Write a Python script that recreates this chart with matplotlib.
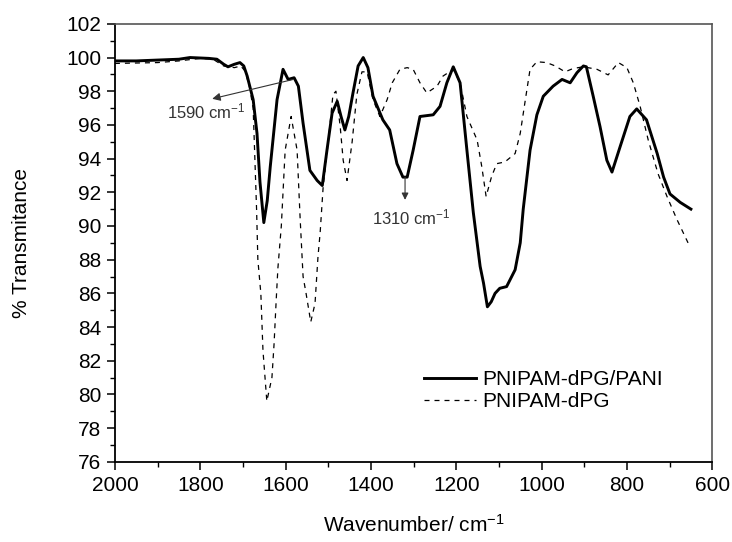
import matplotlib
matplotlib.use("Agg")
import matplotlib.pyplot as plt
from matplotlib.ticker import MultipleLocator

plt.rcParams['font.family'] = ['Liberation Sans', 'DejaVu Sans']
plt.rcParams['mathtext.default'] = 'regular'

# PNIPAM-dPG/PANI (solid)
wn_pani = [2000, 1950, 1900, 1850, 1824, 1780, 1761, 1745, 1735, 1720, 1707, 1698,
           1690, 1676, 1667, 1660, 1651, 1643, 1636, 1620, 1606, 1594, 1580, 1570,
           1559, 1543, 1526, 1514, 1503, 1491, 1479, 1470, 1461, 1452, 1442, 1430,
           1418, 1407, 1395, 1372, 1356, 1339, 1325, 1315, 1301, 1285, 1254, 1238,
           1222, 1207, 1191, 1175, 1160, 1144, 1136, 1127, 1118, 1109, 1098, 1082,
           1062, 1050, 1043, 1027, 1011, 996, 973, 952, 933, 917, 902, 895, 879,
           863, 847, 835, 816, 793, 777, 754, 729, 714, 699, 675, 650]
tr_pani = [99.8, 99.8, 99.85, 99.9, 100.0, 99.95, 99.9, 99.6, 99.45, 99.6, 99.7, 99.5,
           98.9, 97.5, 95.5, 92.6, 90.2, 91.5, 93.5, 97.5, 99.3, 98.7, 98.8, 98.3,
           96.1, 93.3, 92.7, 92.4, 94.5, 96.7, 97.4, 96.5, 95.7, 96.5, 97.9, 99.5,
           100.0, 99.4, 97.7, 96.3, 95.7, 93.7, 92.9, 92.9, 94.5, 96.5, 96.6, 97.1,
           98.5, 99.45, 98.5, 94.5, 90.8, 87.6, 86.6, 85.2, 85.5, 86.0, 86.3, 86.4,
           87.4, 89.0, 91.0, 94.5, 96.6, 97.7, 98.3, 98.7, 98.5, 99.1, 99.5, 99.45, 97.7,
           95.9, 93.9, 93.2, 94.7, 96.5, 96.95, 96.3, 94.3, 92.9, 91.9, 91.4, 91.0]

# PNIPAM-dPG (dashed)
wn_dpg = [2000, 1900, 1850, 1800, 1770, 1745, 1720, 1705, 1695, 1685, 1676, 1668,
          1665, 1658, 1653, 1644, 1632, 1627, 1622, 1618, 1610, 1601, 1587, 1573,
          1566, 1559, 1552, 1541, 1531, 1524, 1519, 1512, 1500, 1489, 1482, 1472,
          1465, 1456, 1444, 1433, 1421, 1409, 1395, 1379, 1362, 1350, 1332, 1315,
          1301, 1285, 1269, 1245, 1231, 1207, 1191, 1175, 1151, 1140, 1130, 1117,
          1105, 1086, 1062, 1050, 1038, 1027, 1011, 988, 968, 945, 926, 902, 870,
          844, 820, 800, 785, 769, 750, 727, 706, 683, 653]
tr_dpg = [99.65, 99.7, 99.8, 99.95, 99.9, 99.5, 99.4, 99.5, 99.2, 98.3, 97.0, 91.0,
          88.0, 86.0, 82.6, 79.6, 81.0, 83.0, 85.6, 87.5, 90.0, 94.5, 96.5, 94.5,
          90.5, 87.0, 86.0, 84.3, 85.4, 88.2, 89.6, 92.3, 95.0, 97.8, 98.0, 95.9,
          93.9, 92.7, 95.0, 97.8, 99.15, 99.15, 97.5, 96.5, 97.5, 98.5, 99.3, 99.4,
          99.3, 98.5, 97.9, 98.3, 98.9, 99.3, 98.5, 96.5, 95.1, 93.5, 91.75, 92.95,
          93.7, 93.8, 94.3, 95.5, 97.5, 99.3, 99.75, 99.7, 99.5, 99.15, 99.35, 99.45, 99.3,
          98.97, 99.7, 99.4, 98.5, 97.1, 95.1, 93.1, 91.75, 90.4, 88.8]

fig = plt.figure(figsize=(7.32, 5.42), dpi=100)
ax = fig.add_axes([0.157, 0.148, 0.816, 0.808])

ax.plot(wn_pani, tr_pani, color='black', lw=2.1, label='PNIPAM-dPG/PANI')
ax.plot(wn_dpg, tr_dpg, color='black', lw=0.9, linestyle=(0, (4, 4)),
        label='PNIPAM-dPG')

ax.set_xlim(2000, 600)
ax.set_ylim(76, 102)
ax.xaxis.set_major_locator(MultipleLocator(200))
ax.xaxis.set_minor_locator(MultipleLocator(100))
ax.yaxis.set_major_locator(MultipleLocator(2))
ax.yaxis.set_minor_locator(MultipleLocator(1))
ax.tick_params(which='major', direction='out', length=6, width=1.1,
               labelsize=15, pad=4, top=False, right=False)
ax.tick_params(which='minor', direction='out', length=3.5, width=1.0,
               top=False, right=False)

for s in ['left', 'bottom']:
    ax.spines[s].set_linewidth(1.3)
    ax.spines[s].set_color('black')
for s in ['top', 'right']:
    ax.spines[s].set_linewidth(1.2)
    ax.spines[s].set_color('#555555')

ax.set_xlabel('Wavenumber/ cm$^{-1}$', fontsize=15, labelpad=14)
ax.set_ylabel('% Transmitance', fontsize=15)
ax.yaxis.set_label_coords(-0.14, 0.5)

# annotations
ax.annotate('', xy=(1772, 97.55), xytext=(1582, 98.7),
            arrowprops=dict(arrowstyle='-|>', lw=0.8, color='#333333',
                            mutation_scale=12, shrinkA=0, shrinkB=0))
ax.text(1786, 96.8, '1590 cm$^{-1}$', fontsize=12, color='#333333',
        ha='center', va='center')
ax.annotate('', xy=(1320, 91.55), xytext=(1320, 92.9),
            arrowprops=dict(arrowstyle='-|>', lw=0.8, color='#333333',
                            mutation_scale=10, shrinkA=0, shrinkB=0))
ax.text(1305, 90.5, '1310 cm$^{-1}$', fontsize=12, color='#333333',
        ha='center', va='center')

ax.legend(loc='center left', bbox_to_anchor=(0.50, 0.162), frameon=False,
          fontsize=15, handlelength=2.5, handletextpad=0.3, labelspacing=0.15,
          borderpad=0)

fig.savefig('out.png', dpi=100)
